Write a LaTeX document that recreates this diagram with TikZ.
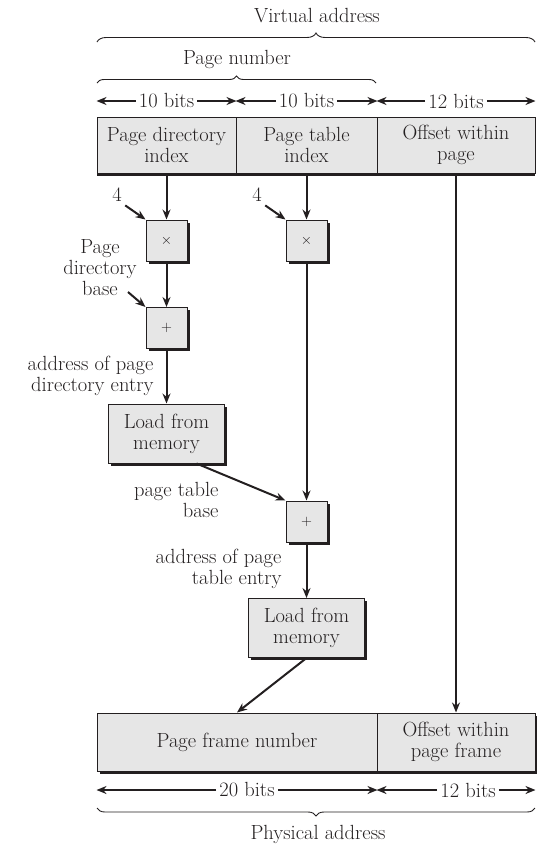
\documentclass[tikz,border=0pt]{standalone}
\usetikzlibrary{arrows.meta,decorations.pathreplacing,shadows}
\definecolor{ink}{HTML}{231F20}
\definecolor{cell}{HTML}{E6E6E6}
\begin{document}
\begin{tikzpicture}[x=1pt,y=-1pt,
    font=\fontsize{20.5}{21}\selectfont,
    every node/.style={text=ink},
    arr/.style={draw=ink,line width=2pt,-{Stealth[length=10pt,width=8pt]}},
    bits/.style={inner sep=3pt},
    brc/.style={draw=ink,line width=0.9pt,decorate,decoration={brace,amplitude=#1}},
    shd/.style={drop shadow={shadow xshift=2.5pt,shadow yshift=-2.5pt,fill=ink,opacity=1}},
    rowshd/.style={drop shadow={shadow xshift=0pt,shadow yshift=-2.5pt,fill=ink,opacity=1}},
    cellbox/.style={draw=ink,line width=1pt,fill=cell,inner sep=0pt,align=center,minimum height=#1},
    opbox/.style={draw=ink,line width=1pt,fill=cell,inner sep=0pt,minimum size=41pt,shd,font=\fontsize{14}{14}\selectfont},
    loadbox/.style={draw=ink,line width=1pt,fill=cell,inner sep=0pt,align=center,minimum width=116pt,minimum height=59pt,shd}]
  \useasboundingbox (0,0) rectangle (536,844);

  \node (va) at (317,16) {Virtual address};
  \draw[brc=9pt] (97,42) -- (535,42);
  \node (pn) at (237,59) {Page number};
  \draw[brc=7pt] (97,83) -- (376,83);

  \node[cellbox=56pt,minimum width=139pt,rowshd] (pdi) at (166.5,145) {Page directory\\index};
  \node[cellbox=56pt,minimum width=141pt,rowshd] (pti) at (306.5,145) {Page table\\index};
  \node[cellbox=56pt,minimum width=158pt,rowshd] (off) at (456,145) {Offset within\\page};

  \node[bits] (b1) at (166.5,101) {10 bits};
  \node[bits] (b2) at (306.5,101) {10 bits};
  \node[bits] (b3) at (456,101) {12 bits};
  \foreach \b/\c in {b1/pdi,b2/pti,b3/off} {
    \draw[arr] (\b.west) -- (\c.west |- \b);
    \draw[arr] (\b.east) -- (\c.east |- \b);
  }

  \node[opbox] (mul1) at (166.5,240.5) {$\times$};
  \node[opbox] (add1) at (166.5,328) {$+$};
  \node[loadbox] (load1) at (166.5,433.5) {Load from\\memory};
  \node[opbox] (mul2) at (306.5,240.5) {$\times$};
  \node[opbox] (add2) at (306.5,521.5) {$+$};
  \node[loadbox] (load2) at (306.5,628) {Load from\\memory};

  \node (four1) at (117,195) {4};
  \node (four2) at (257,195) {4};
  \node[align=center] (pdb) at (100,268) {Page\\directory\\base};
  \coordinate (pdbtail) at (128,292);
  \node[align=right,anchor=east] (apde) at (157,376) {address of page\\directory entry};
  \node[align=right,anchor=east] (ptb) at (222,500) {page table\\base};
  \node[align=right,anchor=east] (apte) at (285,569) {address of page\\table entry};

  \node[cellbox=58pt,minimum width=280pt,shd] (pfn) at (237,742) {Page frame number};
  \node[cellbox=58pt,minimum width=158pt,shd] (ofr) at (456,742) {Offset within\\page frame};

  \node[bits] (b4) at (247,790) {20 bits};
  \node[bits] (b5) at (468,790) {12 bits};
  \foreach \b/\c in {b4/pfn,b5/ofr} {
    \draw[arr] (\b.west) -- (\c.west |- \b);
    \draw[arr] (\b.east) -- (\c.east |- \b);
  }
  \draw[brc=8pt] (535,808) -- (97,808);
  \node (pa) at (318,834) {Physical address};

  \draw[arr] (pdi.south) -- (mul1.north);
  \draw[arr] (mul1.south) -- (add1.north);
  \draw[arr] (add1.south) -- (load1.north);
  \draw[arr] (pti.south) -- (mul2.north);
  \draw[arr] (mul2.south) -- (add2.north);
  \draw[arr] (add2.south) -- (load2.north);
  \draw[arr] ([xshift=30pt]load1.south) -- (add2.north west);
  \draw[arr] (load2.south) -- (pfn.north);
  \draw[arr] (off.south) -- (ofr.north);
  \draw[arr] (four1.south east) -- (mul1.north west);
  \draw[arr] (four2.south east) -- (mul2.north west);
  \draw[arr] (pdbtail) -- (add1.north west);
\end{tikzpicture}
\end{document}
